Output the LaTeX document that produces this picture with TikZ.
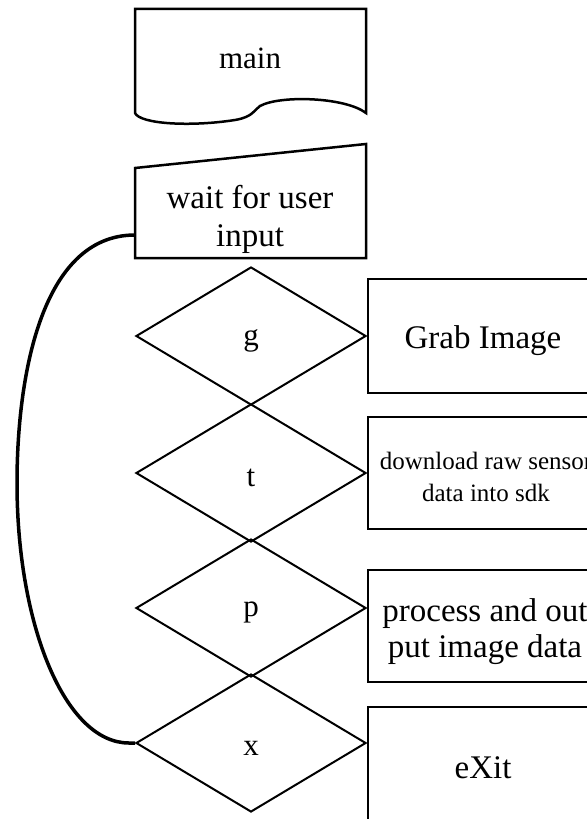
\documentclass[tikz,border=0pt]{standalone}
\usepackage{fontspec}
\setmainfont{Liberation Serif}
\usetikzlibrary{shapes.geometric}
\newcommand{\lowerby}[2]{\raisebox{-#1}[\height][\depth]{#2}}
\begin{document}
\begin{tikzpicture}[x=1bp,y=-1bp,
  line width=2bp, line join=miter,
  dec/.style={draw, diamond, minimum width=230bp, minimum height=138bp, inner sep=0pt, font=\fontsize{31bp}{38bp}\selectfont},
  act/.style={draw, rectangle, minimum width=230bp, inner sep=0pt},
  lbl/.style={align=center, inner sep=0pt, font=\fontsize{33bp}{38bp}\selectfont},
  shapeline/.style={line width=2.5bp},
  loopline/.style={line width=3.5bp}]
\useasboundingbox (0,0) rectangle (587,819);
\clip (0,0) rectangle (587,819);
% document shape "main"
\draw[shapeline] (135,9) -- (366,9) -- (366,113)
  .. controls (345,97) and (280,95) .. (260,106)
  .. controls (254,110) and (253,117) .. (235,120)
  .. controls (190,127) and (140,124) .. (135,113) -- cycle;
\node[lbl, font=\fontsize{31bp}{38bp}\selectfont] (main) at (250,58) {main};
% manual input
\draw[shapeline] (135,168) -- (366,144) -- (366,258) -- (135,258) -- cycle;
\node[lbl] (wait) at (250,219) {wait for user\\input};
\coordinate (loopstart) at (135,235);
% decisions
\node[dec] (g) at (251,336) {\lowerby{5bp}{g}};
\node[dec] (t) at (251,473) {\lowerby{5bp}{t}};
\node[dec] (p) at (251,608) {\lowerby{4bp}{p}};
\node[dec] (x) at (251,743) {\lowerby{5bp}{x}};
% actions
\node[act, minimum height=114bp] (grab) at (483,336) {};
\node[lbl] (grabtext) at (483,341) {Grab Image};
\node[act, minimum height=112bp] (dl) at (483,473) {};
\node[lbl, font=\fontsize{25bp}{32bp}\selectfont] (dltext) at (486,477) {download raw sensor\\data into sdk};
\node[act, minimum height=112bp] (proc) at (483,626) {};
\node[lbl, font=\fontsize{33bp}{36bp}\selectfont] (proctext) at (485,632) {process and out\\put image data};
\node[act, minimum height=120bp] (exit) at (483,767) {};
\node[lbl] (exittext) at (483,768) {eXit};
% loop back
\draw[loopline] (loopstart) .. controls (40,235) and (17,380) .. (17,483)
  .. controls (17,625) and (65,743) .. (129,743) -- (x.west);
\end{tikzpicture}
\end{document}
